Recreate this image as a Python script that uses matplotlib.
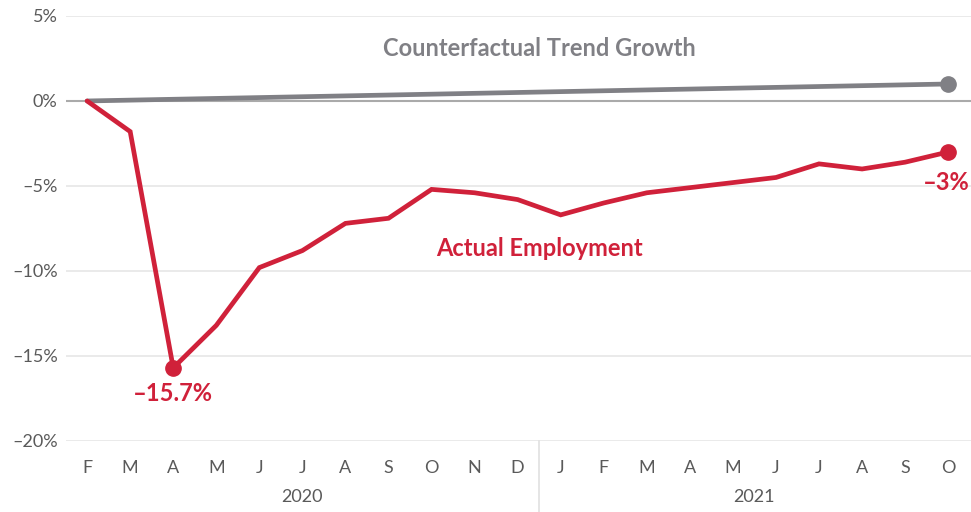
import matplotlib
matplotlib.use('Agg')

import matplotlib.pyplot as plt
import matplotlib.transforms as mtransforms

# Data
months = ['F', 'M', 'A', 'M', 'J', 'J', 'A', 'S', 'O', 'N', 'D',
          'J', 'F', 'M', 'A', 'M', 'J', 'J', 'A', 'S', 'O']
years = ['2020', '2021']
actual = [0.0, -1.8, -15.7, -13.2, -9.8, -8.8, -7.2, -6.9, -5.2, -5.4, -5.8,
          -6.7, -6.0, -5.4, -5.1, -4.8, -4.5, -3.7, -4.0, -3.6, -3.0]
trend = [0.0, 0.05, 0.1, 0.15, 0.2, 0.25, 0.3, 0.35, 0.4, 0.45, 0.5,
         0.55, 0.6, 0.65, 0.7, 0.75, 0.8, 0.85, 0.9, 0.95, 1.0]
yticks = [-20, -15, -10, -5, 0, 5]

red = '#d0213a'
gray = '#808085'
txt = '#5a5a5a'

plt.rcParams['font.family'] = ['Lato', 'DejaVu Sans']

fig = plt.figure(figsize=(9.71, 5.12), dpi=100)
ax = fig.add_axes([0.068, 0.1387, 0.932, 0.8301])

x = list(range(len(months)))

# Grid
for t in yticks:
    if t == 0:
        ax.axhline(t, color='#aaaaaa', lw=1.5, zorder=1)
    else:
        ax.axhline(t, color='#e6e6e6', lw=1.2, zorder=0)

ax.plot(x, trend, color=gray, lw=3.4, solid_capstyle='round', zorder=2)
ax.plot(x[-1], trend[-1], 'o', color=gray, ms=11, zorder=3)
ax.plot(x, actual, color=red, lw=3.4, solid_capstyle='round',
        solid_joinstyle='miter', zorder=4)
ax.plot(x[2], actual[2], 'o', color=red, ms=11, zorder=5)
ax.plot(x[-1], actual[-1], 'o', color=red, ms=11, zorder=5)

ax.set_xlim(-0.49, 20.53)
ax.set_ylim(-20, 5)

ax.set_yticks(yticks)
ax.set_yticklabels([f'{t}%'.replace('-', '\u2013') for t in yticks])
ax.set_xticks(x)
ax.set_xticklabels(months)
ax.tick_params(length=0, labelsize=13, labelcolor=txt)
ax.tick_params(axis='x', pad=14)
ax.tick_params(axis='y', pad=6)

for s in ax.spines.values():
    s.set_visible(False)

# Year labels and separator
trans = mtransforms.blended_transform_factory(ax.transData, ax.transAxes)
ax.text(5, -0.132, years[0], transform=trans, ha='center', va='center',
        fontsize=13, color=txt)
ax.text(15.5, -0.132, years[1], transform=trans, ha='center', va='center',
        fontsize=13, color=txt)
ax.plot([10.5, 10.5], [0, -0.17], transform=trans, color='#e0e0e0', lw=1.2,
        clip_on=False)

# Annotations
ax.text(10.5, 3.1, 'Counterfactual Trend Growth', ha='center', va='center',
        fontsize=17, color=gray, fontweight='bold')
ax.text(10.5, -8.65, 'Actual Employment', ha='center', va='center',
        fontsize=17, color=red, fontweight='bold')
ax.text(2, -17.2, '\u201315.7%', ha='center', va='center',
        fontsize=17, color=red, fontweight='bold')
ax.text(20.5, -4.8, '\u20133%', ha='right', va='center',
        fontsize=17, color=red, fontweight='bold')

fig.savefig('out.png', dpi=100)
